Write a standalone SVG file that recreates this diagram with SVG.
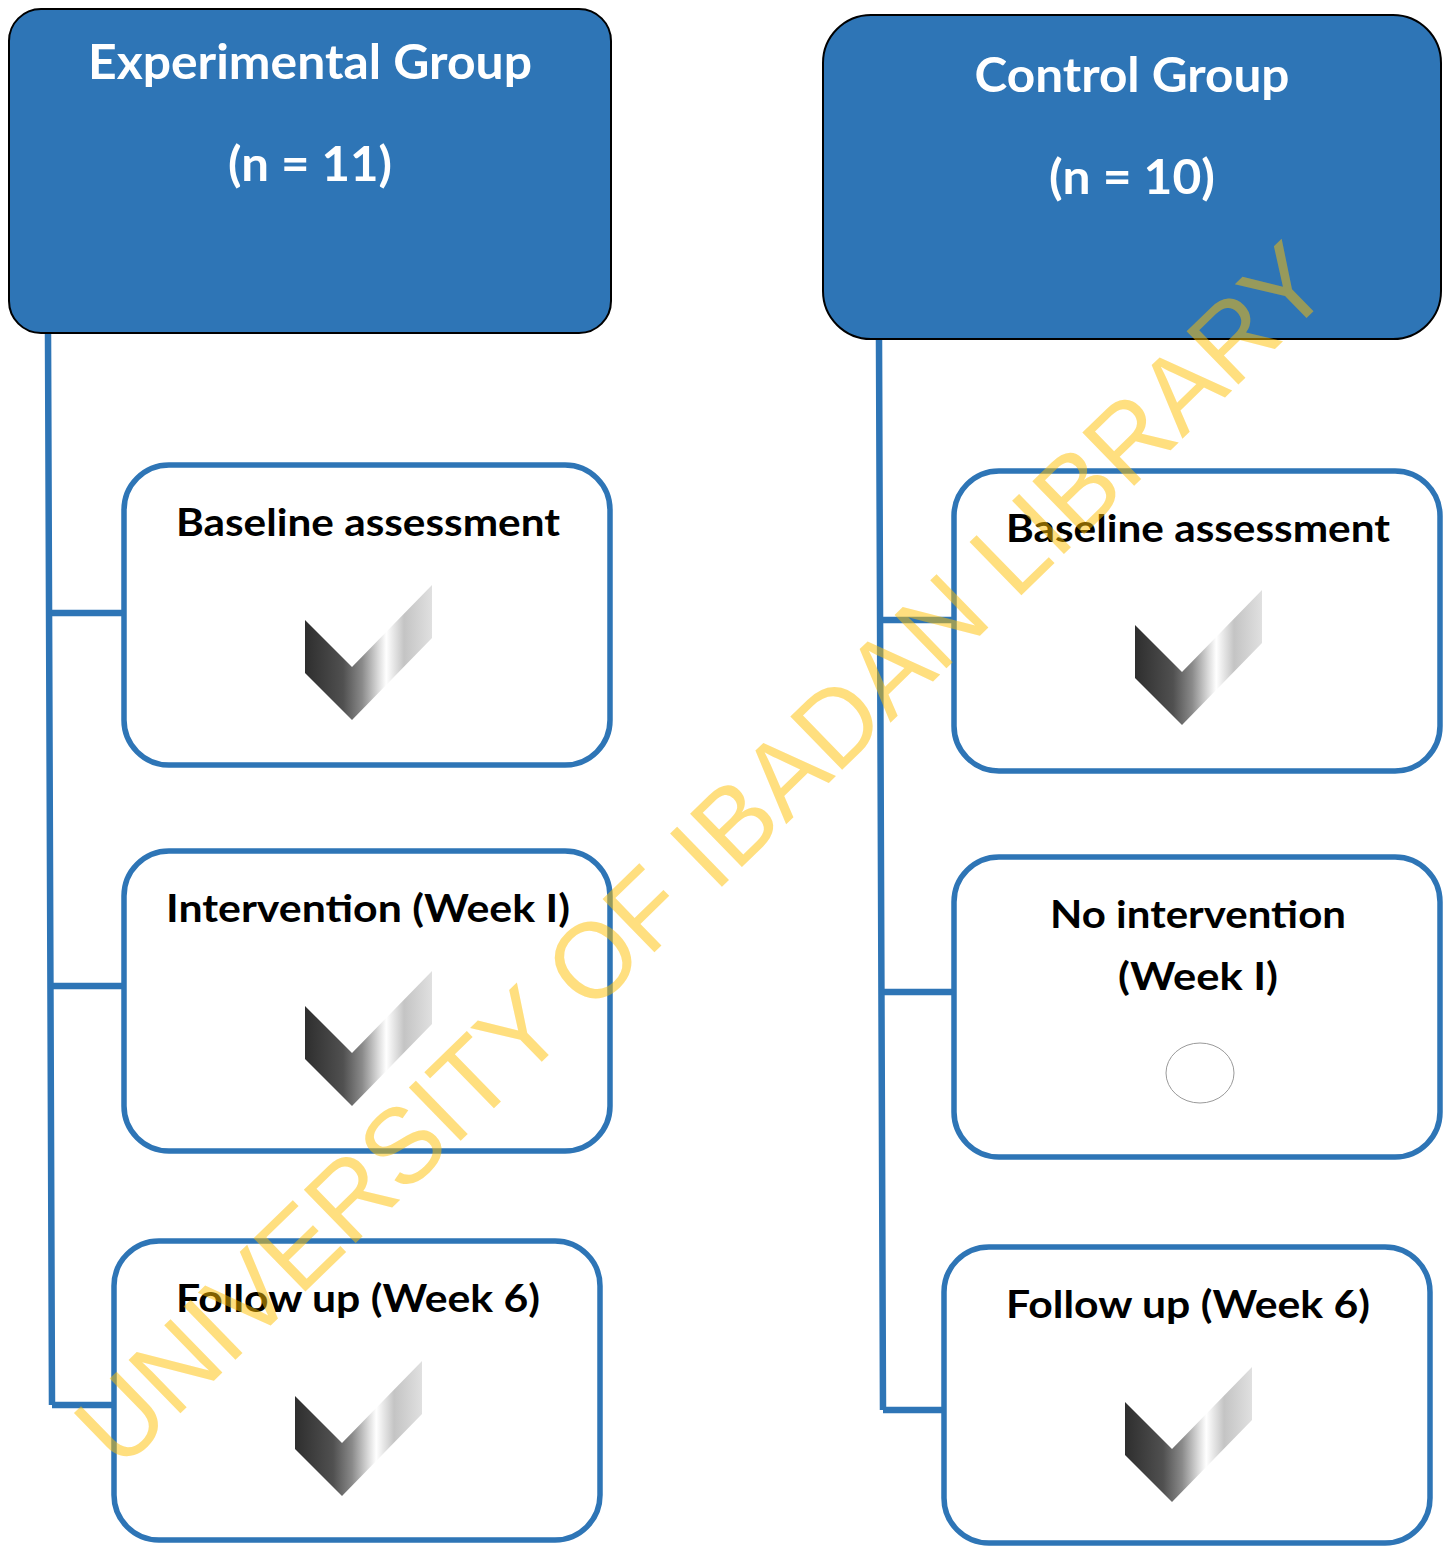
<svg xmlns="http://www.w3.org/2000/svg" width="1455" height="1546" viewBox="0 0 1455 1546">
<style>
.hdr{fill:#2E75B6;stroke:#000;stroke-width:2}
.box{fill:#fff;stroke:#2E75B6;stroke-width:5.5}
.conn{stroke:#2E75B6;stroke-width:6.5;fill:none}
.ht{font-family:Lato,"Open Sans",sans-serif;font-weight:bold;font-size:47px;fill:#fff;text-anchor:middle}
.bt{font-family:Lato,"Open Sans",sans-serif;font-weight:bold;font-size:38px;fill:#000;text-anchor:middle}
.wm{font-family:"Liberation Sans",Arial,sans-serif;font-size:108px;fill:#FFC000;fill-opacity:0.5}
</style>
<defs>
<linearGradient id="chk" x1="0" y1="0" x2="1" y2="0">
<stop offset="0" stop-color="#2e2e2e"/>
<stop offset="0.3" stop-color="#505050"/>
<stop offset="0.45" stop-color="#8a8a8a"/>
<stop offset="0.58" stop-color="#dcdcdc"/>
<stop offset="0.64" stop-color="#ffffff"/>
<stop offset="0.78" stop-color="#c4c4c4"/>
<stop offset="1" stop-color="#e0e0e0"/>
</linearGradient>
<polygon id="check" points="0,35 47,82 127,0 127,53 47,135 0,88" fill="url(#chk)"/>
</defs>

<g id="connectors">
<path class="conn" d="M48,334 L52,1405 M50,613 H122 M51,986 H122 M52,1405 H112"/>
<path class="conn" d="M879,340 L883,1410 M880,620 H952 M881,992 H952 M883,1410 H942"/>
</g>

<g id="exp-group">
<rect class="hdr" x="9" y="9" width="602" height="324" rx="32"/>
<text class="ht" x="310" y="79" textLength="444" lengthAdjust="spacingAndGlyphs">Experimental Group</text>
<text class="ht" x="310" y="181" textLength="164" lengthAdjust="spacingAndGlyphs">(n = 11)</text>
</g>

<g id="ctrl-group">
<rect class="hdr" x="823" y="15" width="618" height="324" rx="48"/>
<text class="ht" x="1132" y="92" textLength="315" lengthAdjust="spacingAndGlyphs">Control Group</text>
<text class="ht" x="1132" y="194" textLength="166" lengthAdjust="spacingAndGlyphs">(n = 10)</text>
</g>

<g id="exp-baseline">
<rect class="box" x="124" y="465" width="486" height="300" rx="45"/>
<text class="bt" x="368" y="536" textLength="384" lengthAdjust="spacingAndGlyphs">Baseline assessment</text>
<use href="#check" x="305" y="585"/>
</g>

<g id="exp-intervention">
<rect class="box" x="124" y="851" width="486" height="300" rx="45"/>
<text class="bt" x="368" y="922" textLength="404" lengthAdjust="spacingAndGlyphs">Intervention (Week I)</text>
<use href="#check" x="305" y="971"/>
</g>

<g id="exp-followup">
<rect class="box" x="114" y="1241" width="486" height="299" rx="45"/>
<text class="bt" x="358" y="1312" textLength="364" lengthAdjust="spacingAndGlyphs">Follow up (Week 6)</text>
<use href="#check" x="295" y="1361"/>
</g>

<g id="ctrl-baseline">
<rect class="box" x="954" y="471" width="486" height="300" rx="45"/>
<text class="bt" x="1198" y="542" textLength="384" lengthAdjust="spacingAndGlyphs">Baseline assessment</text>
<use href="#check" x="1135" y="590"/>
</g>

<g id="ctrl-nointervention">
<rect class="box" x="954" y="857" width="486" height="300" rx="45"/>
<text class="bt" x="1198" y="928" textLength="296" lengthAdjust="spacingAndGlyphs">No intervention</text>
<text class="bt" x="1198" y="990" textLength="160" lengthAdjust="spacingAndGlyphs">(Week I)</text>
<ellipse cx="1200" cy="1073" rx="34" ry="30" fill="#fff" stroke="#9a9a9a" stroke-width="1"/>
</g>

<g id="ctrl-followup">
<rect class="box" x="944" y="1247" width="486" height="296" rx="45"/>
<text class="bt" x="1188" y="1318" textLength="364" lengthAdjust="spacingAndGlyphs">Follow up (Week 6)</text>
<use href="#check" x="1125" y="1367"/>
</g>

<text class="wm" transform="translate(120,1472) rotate(-44.2)" textLength="1695" lengthAdjust="spacingAndGlyphs">UNIVERSITY OF IBADAN LIBRARY</text>
</svg>
